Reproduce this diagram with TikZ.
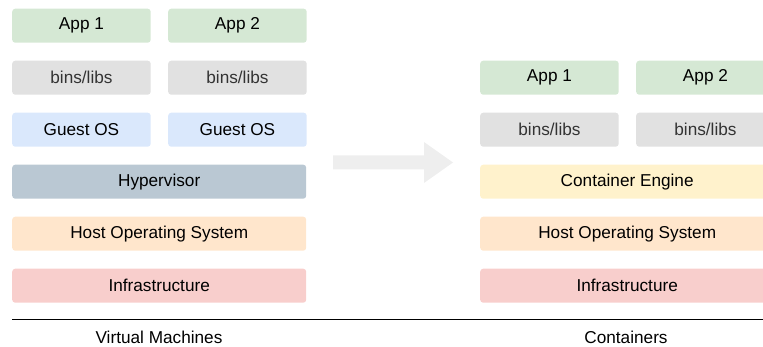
\documentclass[tikz,border=0pt]{standalone}
\usepackage{fontspec}
\setmainfont{Liberation Sans}
\definecolor{appc}{HTML}{D5E8D4}
\definecolor{binc}{HTML}{E1E1E1}
\definecolor{guestc}{HTML}{DAE8FC}
\definecolor{hypc}{HTML}{BAC8D3}
\definecolor{hostc}{HTML}{FFE6CC}
\definecolor{infc}{HTML}{F8CECC}
\definecolor{engc}{HTML}{FFF2CC}
\definecolor{arrc}{HTML}{EEEEEE}
\definecolor{bintext}{HTML}{333333}
\begin{document}
\begin{tikzpicture}[x=1pt,y=-1pt,
  layer/.style={rectangle, rounded corners=3pt, draw=none, inner sep=0pt, anchor=north west,
    minimum height=34pt, font=\fontsize{17.2}{20}\selectfont, text=black},
  half/.style={layer, minimum width=138.5pt},
  full/.style={layer, minimum width=294pt},
  app/.style={fill=appc},
  bin/.style={fill=binc, text=bintext},
  guest/.style={fill=guestc},
  hyp/.style={fill=hypc},
  host/.style={fill=hostc},
  infra/.style={fill=infc},
  eng/.style={fill=engc},
  caption/.style={font=\fontsize{17.2}{20}\selectfont, inner sep=0pt}]
\path[use as bounding box, clip] (0,0) rectangle (763,347);
% Virtual machines
\node[half, app] (vapp1) at (12,8.5) {App 1};
\node[half, app] (vapp2) at (168,8.5) {App 2};
\node[half, bin] (vbin1) at (12,60.5) {bins/libs};
\node[half, bin] (vbin2) at (168,60.5) {bins/libs};
\node[half, guest] (vguest1) at (12,112.5) {Guest OS};
\node[half, guest] (vguest2) at (168,112.5) {Guest OS};
\node[full, hyp] (vhyp) at (12,164.5) {Hypervisor};
\node[full, host] (vhost) at (12,216.5) {Host Operating System};
\node[full, infra] (vinfra) at (12,268.5) {Infrastructure};
% Containers
\node[half, app] (capp1) at (480,60.5) {App 1};
\node[half, app] (capp2) at (636,60.5) {App 2};
\node[half, bin] (cbin1) at (480,112.5) {bins/libs};
\node[half, bin] (cbin2) at (636,112.5) {bins/libs};
\node[full, eng] (ceng) at (480,164.5) {Container Engine};
\node[full, host] (chost) at (480,216.5) {Host Operating System};
\node[full, infra] (cinfra) at (480,268.5) {Infrastructure};
% big arrow
\fill[arrc] (333,155.5) -- (424,155.5) -- (424,142) -- (453,162.5) -- (424,183) -- (424,169.5) -- (333,169.5) -- cycle;
% base line
\coordinate (lineL) at (12,319.5);
\coordinate (lineR) at (763,319.5);
\draw[line width=1.5pt] (lineL) -- (lineR);
\node[caption] (vmcap) at (159,337) {Virtual Machines};
\node[caption] (ctcap) at (626,337) {Containers};
\end{tikzpicture}
\end{document}
